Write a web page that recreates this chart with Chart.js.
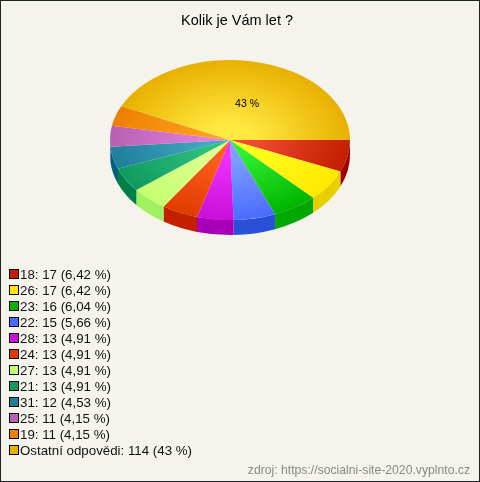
<!DOCTYPE html>
<html>
<head>
<meta charset="utf-8">
<script src="https://cdn.jsdelivr.net/npm/chart.js@4"></script>
<style>
  html, body { margin: 0; padding: 0; background: #f5f4ec; }
  #wrap { position: relative; width: 478px; height: 480px; border: 1px solid #222; overflow: hidden; }
  #pie { position: absolute; left: -1px; top: -1px; }
  #title { position: absolute; left: 0; top: 11px; width: 472px; text-align: center; font: 14.5px "Liberation Sans", Arial, sans-serif; color: #000; }
  #legend { position: absolute; left: 8px; top: 266px; font: 13.3px "Liberation Sans", Arial, sans-serif; color: #111; }
  #legend div { height: 16px; line-height: 16px; white-space: nowrap; }
  #legend i { display: inline-block; width: 8px; height: 8px; border: 1px solid #000; margin-right: 1px; }
  #source { position: absolute; right: 9px; top: 462px; font: 12.2px "Liberation Sans", Arial, sans-serif; color: #888; }
</style>
</head>
<body>
<div id="wrap">
  <canvas id="pie" width="480" height="482"></canvas>
  <div id="title">Kolik je Vám let ?</div>
  <div id="legend"></div>
  <div id="source">zdroj: https://socialni-site-2020.vyplnto.cz</div>
</div>
<script>
const categories = ['18', '26', '23', '22', '28', '24', '27', '21', '31', '25', '19', 'Ostatní odpovědi'];
const answers = [17, 17, 16, 15, 13, 13, 13, 13, 12, 11, 11, 114];
const percentLabels = ['6,42', '6,42', '6,04', '5,66', '4,91', '4,91', '4,91', '4,91', '4,53', '4,15', '4,15', '43'];
const baseColors = ['#c41e00', '#ffe800', '#00b400', '#4a6cff', '#c810d8', '#e03c00', '#c4ff70', '#0f9a5e', '#1f7f9c', '#b860b0', '#ee7f00', '#e8b000'];
const lightColors = ['#f04a30', '#ffff20', '#30f030', '#80a0ff', '#f030ff', '#ff6020', '#e0ff90', '#30c080', '#40a8c0', '#e080e0', '#ffa020', '#ffe840'];
const sideColors = ['#a00000', '#e8d000', '#00a800', '#2a50d8', '#a800b8', '#c42000', '#a0f060', '#008048', '#005f80', '#904090', '#c06000', '#c09000'];

const pieCenterY = 140;   // where the tilted pie sits on the page
const tilt = 2 / 3;       // squash of the circle into an ellipse
const depth = 15;         // height of the pie side in px

// radial shading of each slice, light in the middle
function sliceFill(context) {
  const area = context.chart.chartArea;
  if (!area || context.dataIndex === undefined) return baseColors[context.dataIndex] || '#000';
  const x = (area.left + area.right) / 2;
  const y = (area.top + area.bottom) / 2;
  const r = Math.min(area.width, area.height) / 2;
  const g = context.chart.ctx.createRadialGradient(x, y, 0, x, y, r);
  g.addColorStop(0.2, lightColors[context.dataIndex]);
  g.addColorStop(1, baseColors[context.dataIndex]);
  return g;
}

const tiltedPie = {
  id: 'tiltedPie',
  beforeDatasetsDraw(chart) {
    const ctx = chart.ctx;
    const arcs = chart.getDatasetMeta(0).data;
    ctx.save();
    ctx.translate(0, pieCenterY);
    ctx.scale(1, tilt);
    ctx.translate(0, -arcs[0].y);
    // side wall, only the front half can be seen
    arcs.forEach((arc, i) => {
      if (arc.startAngle >= Math.PI) return;
      const end = Math.min(arc.endAngle, Math.PI);
      ctx.beginPath();
      ctx.arc(arc.x, arc.y, arc.outerRadius, arc.startAngle, end);
      ctx.arc(arc.x, arc.y + depth / tilt, arc.outerRadius, end, arc.startAngle, true);
      ctx.closePath();
      ctx.fillStyle = sideColors[i];
      ctx.fill();
    });
  },
  afterDatasetsDraw(chart) {
    const ctx = chart.ctx;
    ctx.restore();
    // only the big slice gets a label
    const last = answers.length - 1;
    const arc = chart.getDatasetMeta(0).data[last];
    const p = arc.getCenterPoint();
    ctx.fillStyle = '#000';
    ctx.font = '10.5px "Liberation Sans", Arial, sans-serif';
    ctx.textAlign = 'center';
    ctx.textBaseline = 'middle';
    ctx.fillText(percentLabels[last] + ' %', p.x + 4, pieCenterY + (p.y - arc.y) * tilt + 3);
  }
};

new Chart(document.getElementById('pie'), {
  type: 'pie',
  data: {
    labels: categories,
    datasets: [{
      data: answers,
      backgroundColor: sliceFill,
      borderWidth: 0
    }]
  },
  options: {
    responsive: false,
    animation: false,
    rotation: 90,
    layout: { padding: { left: 110, right: 130, top: 40, bottom: 190 } },
    plugins: {
      legend: { display: false },
      tooltip: { enabled: false }
    }
  },
  plugins: [tiltedPie]
});

const legend = document.getElementById('legend');
categories.forEach((name, i) => {
  const row = document.createElement('div');
  const box = document.createElement('i');
  box.style.background = baseColors[i];
  row.appendChild(box);
  row.appendChild(document.createTextNode(name + ': ' + answers[i] + ' (' + percentLabels[i] + ' %)'));
  legend.appendChild(row);
});
</script>
</body>
</html>
